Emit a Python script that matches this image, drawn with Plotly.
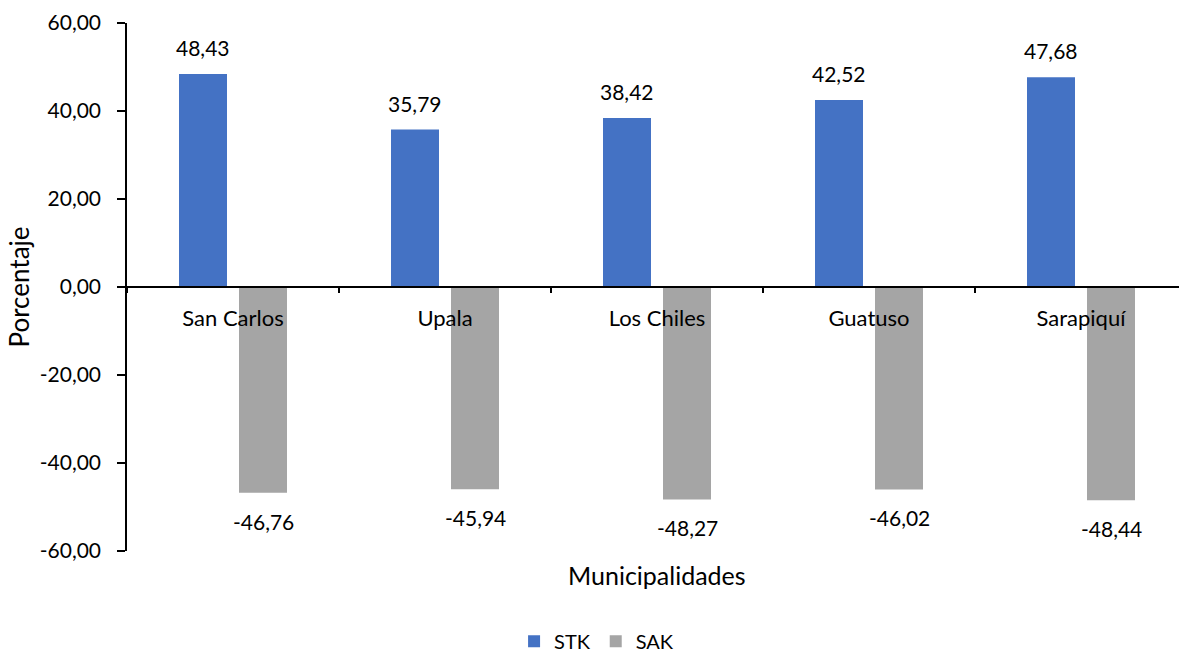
import plotly.graph_objects as go

categories = ["San Carlos", "Upala", "Los Chiles", "Guatuso", "Sarapiquí"]
stk = [48.43, 35.79, 38.42, 42.52, 47.68]
sak = [-46.76, -45.94, -48.27, -46.02, -48.44]
y_ticks = [-60, -40, -20, 0, 20, 40, 60]

FONT = "Lato"
FS = 21
BLACK = "#000000"


def fmt(v):
    return f"{v:.2f}".replace(".", ",")


fig = go.Figure()
fig.add_trace(go.Bar(name="STK", x=categories, y=stk, marker=dict(color="#4472C4", line=dict(width=0))))
fig.add_trace(go.Bar(name="SAK", x=categories, y=sak, marker=dict(color="#A5A5A5", line=dict(width=0))))

annotations = []
for c, v in zip(categories, stk):
    annotations.append(dict(x=c, y=v, xref="x", yref="y", text=fmt(v), showarrow=False,
                            xshift=-30, yanchor="bottom", yshift=12,
                            font=dict(family=FONT, size=FS, color=BLACK)))
for c, v in zip(categories, sak):
    annotations.append(dict(x=c, y=v, xref="x", yref="y", text=fmt(v), showarrow=False,
                            xshift=30, yanchor="top", yshift=-14,
                            font=dict(family=FONT, size=FS, color=BLACK)))
annotations.append(dict(x=0.5038, y=-0.045, xref="paper", yref="paper", text="Municipalidades",
                        showarrow=False, xanchor="center", yanchor="middle",
                        font=dict(family=FONT, size=25, color=BLACK)))

fig.update_layout(
    width=1179, height=653,
    margin=dict(l=127, r=0, t=23.3, b=101.7, autoexpand=False),
    paper_bgcolor="white", plot_bgcolor="white",
    barmode="group", bargap=0.434, bargroupgap=0.2,
    separators=",.",
    font=dict(family=FONT, size=FS, color=BLACK),
    showlegend=True,
    legend=dict(orientation="h", xref="container", yref="container", x=0.506, y=0.018,
                xanchor="center", yanchor="middle", font=dict(family=FONT, size=20, color=BLACK),
                itemwidth=30, tracegroupgap=0),
    annotations=annotations,
    xaxis=dict(
        type="category", range=[-0.5, -0.5 + 1052 / 212],
        anchor="free", position=0.5,
        showline=True, linecolor=BLACK, linewidth=1.5,
        ticks="outside", ticklen=5, tickwidth=1.5, tickcolor=BLACK, tickson="boundaries",
        showgrid=False, zeroline=False,
        tickfont=dict(family=FONT, size=22, color=BLACK),
        ticklabelstandoff=12,
    ),
    yaxis=dict(
        range=[-60, 60], tickvals=y_ticks, ticktext=[fmt(v) for v in y_ticks],
        showline=True, linecolor=BLACK, linewidth=1.5,
        ticks="outside", ticklen=8, tickwidth=1.5, tickcolor=BLACK,
        showgrid=False, zeroline=False,
        tickfont=dict(family=FONT, size=FS, color=BLACK),
        ticklabelstandoff=12,
        title=dict(text="Porcentaje", font=dict(family=FONT, size=26, color=BLACK), standoff=3),
    ),
)

fig.write_html("out.html")
